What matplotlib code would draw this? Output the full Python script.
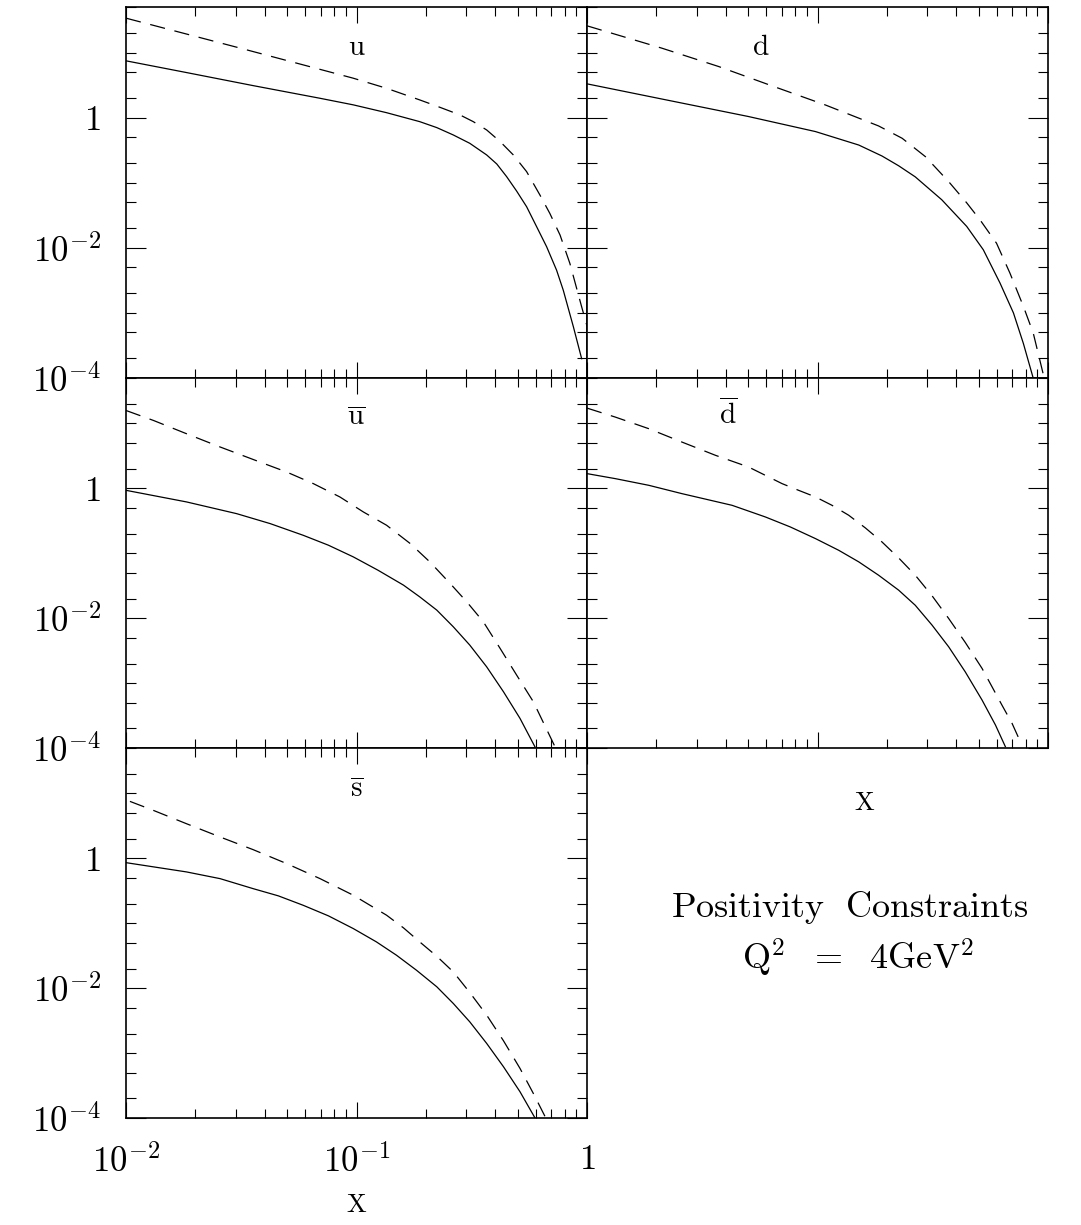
import matplotlib
matplotlib.use('Agg')
import matplotlib.pyplot as plt
from matplotlib.ticker import LogLocator, NullFormatter
import numpy as np

plt.rcParams['mathtext.fontset'] = 'cm'
plt.rcParams['font.family'] = 'serif'
plt.rcParams['font.serif'] = ['cmr10', 'DejaVu Serif']
plt.rcParams['axes.formatter.use_mathtext'] = True
plt.rcParams['lines.scale_dashes'] = False

# ---------------- data ----------------
u_sol_x = [0.01, 0.0183, 0.0356, 0.0695, 0.0968, 0.135, 0.188, 0.223, 0.263, 0.310, 0.367, 0.406,
           0.448, 0.495, 0.547, 0.605, 0.668, 0.738, 0.789, 0.873, 0.948]
u_sol_y = [7.45, 4.92, 3.10, 1.98, 1.57, 1.19, 0.867, 0.702, 0.541, 0.403, 0.267, 0.194,
           0.124, 0.0745, 0.0428, 0.0210, 0.0104, 0.00453, 0.00223, 0.00061, 0.000198]
u_das_x = [0.01, 0.0313, 0.0968, 0.135, 0.188, 0.230, 0.281, 0.321, 0.367, 0.420, 0.479, 0.547,
           0.625, 0.690, 0.764, 0.843, 0.948, 1.0]
u_das_y = [33.7, 11.67, 4.03, 2.82, 1.87, 1.44, 1.10, 0.867, 0.646, 0.428, 0.267, 0.148,
           0.0646, 0.0337, 0.0157, 0.00574, 0.00124, 0.00063]

d_sol_x = [0.01, 0.0224, 0.0501, 0.098, 0.151, 0.1905, 0.2249, 0.2655, 0.346, 0.444, 0.524,
           0.619, 0.708, 0.782, 0.859]
d_sol_y = [3.30, 1.85, 1.04, 0.610, 0.379, 0.257, 0.182, 0.123, 0.0547, 0.0213, 0.00933,
           0.00288, 0.001, 0.000339, 0.000105]
d_das_x = [0.01, 0.0211, 0.0372, 0.0635, 0.108, 0.184, 0.233, 0.294, 0.371, 0.444, 0.507,
           0.598, 0.684, 0.782, 0.863, 0.955]
d_das_y = [25.7, 11.67, 6.10, 3.07, 1.567, 0.745, 0.481, 0.251, 0.1035, 0.049, 0.0269,
           0.01175, 0.00407, 0.00126, 0.00049, 0.000112]

ub_sol_x = [0.01, 0.0183, 0.0302, 0.0422, 0.0587, 0.0755, 0.0968, 0.124, 0.160, 0.188, 0.223,
            0.263, 0.310, 0.367, 0.434, 0.512, 0.594]
ub_sol_y = [0.931, 0.617, 0.407, 0.286, 0.189, 0.133, 0.0879, 0.0547, 0.0322, 0.0213, 0.0133,
            0.00736, 0.00385, 0.00178, 0.000736, 0.000286, 0.000105]
ub_das_x = [0.01, 0.01315, 0.0183, 0.0256, 0.0381, 0.0498, 0.0650, 0.0847, 0.107, 0.135, 0.171,
            0.208, 0.255, 0.301, 0.355, 0.420, 0.495, 0.585, 0.726]
ub_das_y = [15.8, 11.1, 6.93, 4.33, 2.54, 1.78, 1.18, 0.736, 0.433, 0.270, 0.141,
            0.0736, 0.0341, 0.0178, 0.00879, 0.00341, 0.00133, 0.000516, 0.000105]

db_sol_x = [0.01, 0.01327, 0.01854, 0.0258, 0.0426, 0.0594, 0.0762, 0.098, 0.1236, 0.151, 0.184,
            0.2249, 0.2655, 0.3141, 0.3707, 0.4375, 0.5176, 0.5916, 0.6531]
db_sol_y = [1.683, 1.409, 1.112, 0.828, 0.547, 0.362, 0.254, 0.168, 0.111, 0.0736, 0.0459,
            0.027, 0.0158, 0.0078, 0.00362, 0.00149, 0.000547, 0.000226, 0.000105]
db_das_x = [0.01, 0.01327, 0.01854, 0.0258, 0.0361, 0.0502, 0.0702, 0.0828, 0.098, 0.1156, 0.1365,
            0.1614, 0.1905, 0.2249, 0.2655, 0.3141, 0.3707, 0.4375, 0.5176, 0.5715, 0.631,
            0.6982, 0.7586]
db_das_y = [17.2, 12.5, 8.28, 5.16, 3.22, 2.13, 1.18, 0.931, 0.736, 0.547, 0.385,
            0.245, 0.149, 0.0847, 0.0459, 0.0221, 0.00989, 0.00423, 0.00168, 0.000879, 0.000459,
            0.00024, 0.000125]

sb_sol_x = [0.01, 0.0183, 0.0256, 0.0356, 0.0458, 0.0587, 0.0755, 0.0968, 0.122, 0.149, 0.182,
            0.223, 0.263, 0.310, 0.367, 0.434, 0.512, 0.594]
sb_sol_y = [0.857, 0.617, 0.486, 0.341, 0.264, 0.189, 0.130, 0.0828, 0.0516, 0.0322, 0.0189,
            0.0105, 0.00581, 0.00303, 0.00141, 0.000617, 0.000254, 0.000101]
sb_das_x = [0.0104, 0.01315, 0.0183, 0.0256, 0.0356, 0.0498, 0.0695, 0.0968, 0.135, 0.160, 0.188,
            0.223, 0.263, 0.310, 0.367, 0.434, 0.512, 0.585, 0.658]
sb_das_y = [7.53, 5.47, 3.41, 2.13, 1.36, 0.828, 0.486, 0.270, 0.133, 0.0847, 0.0516,
            0.0310, 0.0178, 0.00857, 0.00385, 0.00155, 0.000581, 0.000239, 0.000105]

panel_names = [r'$\mathrm{u}$', r'$\mathrm{d}$', r'$\overline{\mathrm{u}}$',
               r'$\overline{\mathrm{d}}$', r'$\overline{\mathrm{s}}$']
label_x = [0.1, 0.057, 0.1, 0.041, 0.1]
label_y = [9.2, 9.2, 9.3, 9.7, 8.8]

x_major = [0.01, 0.1, 1.0]
x_major_labels = [r'$10^{-2}$', r'$10^{-1}$', r'$1$']
y_major = [1e-4, 1e-2, 1.0]
y_major_labels = [r'$10^{-4}$', r'$10^{-2}$', r'$1$']

# ---------------- layout ----------------
W, H = 1081, 1225
fig = plt.figure(figsize=(W / 100, H / 100), dpi=100)

def rect(x0, y0, x1, y1):
    return [x0 / W, 1 - y1 / H, (x1 - x0) / W, (y1 - y0) / H]

cols = [(126, 587), (587, 1048)]
rows = [(7, 378), (378, 748), (748, 1118)]
cells = [(0, 0), (0, 1), (1, 0), (1, 1), (2, 0)]
curves = [
    (u_sol_x, u_sol_y, u_das_x, u_das_y),
    (d_sol_x, d_sol_y, d_das_x, d_das_y),
    (ub_sol_x, ub_sol_y, ub_das_x, ub_das_y),
    (db_sol_x, db_sol_y, db_das_x, db_das_y),
    (sb_sol_x, sb_sol_y, sb_das_x, sb_das_y),
]

for i, ((r, c), (sx, sy, dx, dy)) in enumerate(zip(cells, curves)):
    x0, x1 = cols[c]
    y0, y1 = rows[r]
    ax = fig.add_axes(rect(x0, y0, x1, y1))
    ax.set_xscale('log')
    ax.set_yscale('log')
    ax.plot(sx, sy, color='black', lw=0.9)
    ax.plot(dx, dy, color='black', lw=0.9, dashes=(11, 7))
    ax.set_xlim(0.01, 1.0)
    ax.set_ylim(1e-4, 50)
    for s in ax.spines.values():
        s.set_linewidth(1.2)

    ax.set_xticks(x_major)
    ax.xaxis.set_minor_locator(LogLocator(base=10, subs=np.arange(2, 10), numticks=50))
    ax.xaxis.set_minor_formatter(NullFormatter())
    ax.set_yticks(y_major)
    ax.yaxis.set_minor_locator(LogLocator(base=10, subs=(1.0, 2.0, 5.0), numticks=50))
    ax.yaxis.set_minor_formatter(NullFormatter())

    ax.tick_params(which='both', direction='in', top=True, right=True, width=0.8)
    ax.tick_params(axis='y', which='major', length=14.5, pad=18, labelsize=25)
    ax.tick_params(axis='y', which='minor', length=7.5)
    ax.tick_params(axis='x', which='major', length=11.5, pad=19, labelsize=25)
    ax.tick_params(axis='x', which='minor', length=6.5)

    if c == 0:
        ax.set_yticklabels(y_major_labels)
    else:
        ax.tick_params(labelleft=False)
    if r == 2:
        ax.set_xticklabels(x_major_labels)
    else:
        ax.tick_params(labelbottom=False)

    ax.text(label_x[i], label_y[i], panel_names[i], ha='center', va='baseline', fontsize=21)

fig.text(357 / W, 1 - 1205 / H, r'$\mathrm{X}$', ha='center', va='center', fontsize=19)
fig.text(865 / W, 1 - 803 / H, r'$\mathrm{X}$', ha='center', va='center', fontsize=19)
fig.text(850 / W, 1 - 907 / H, r'$\mathrm{Positivity\ \ Constraints}$', ha='center', va='center', fontsize=26)
fig.text(858 / W, 1 - 958 / H, r'$\mathrm{Q}^{2}\ \ =\ \ 4\mathrm{GeV}^{2}$', ha='center', va='center', fontsize=26)

fig.savefig('out.png', dpi=100)
